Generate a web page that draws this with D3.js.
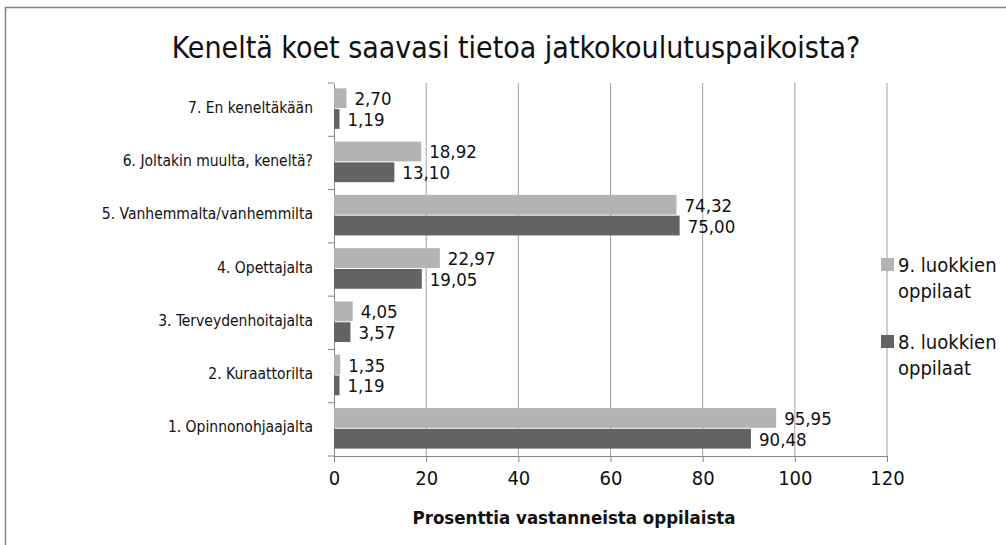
<!DOCTYPE html>
<html>
<head>
<meta charset="utf-8">
<script src="https://cdn.jsdelivr.net/npm/d3@7"></script>
<style>
  body { margin: 0; background: #fff; }
  text { font-family: "DejaVu Sans Condensed", "Open Sans", sans-serif; }
</style>
</head>
<body>
<div id="chart"></div>
<script>
// Data
let categories = [
  '7. En keneltäkään',
  '6. Joltakin muulta, keneltä?',
  '5. Vanhemmalta/vanhemmilta',
  '4. Opettajalta',
  '3. Terveydenhoitajalta',
  '2. Kuraattorilta',
  '1. Opinnonohjaajalta'
]
let ninth = [2.70, 18.92, 74.32, 22.97, 4.05, 1.35, 95.95]
let eighth = [1.19, 13.10, 75.00, 19.05, 3.57, 1.19, 90.48]
let seriesNames = ['9. luokkien oppilaat', '8. luokkien oppilaat']
let xTicks = [0, 20, 40, 60, 80, 100, 120]

let W = 1006
let H = 545
let margin = { top: 83, left: 334, right: 119, bottom: 89 }
let width = W - margin.left - margin.right
let height = H - margin.top - margin.bottom

let narrow = '"Liberation Sans Narrow", "DejaVu Sans Condensed", sans-serif'

let svg = d3.select('#chart')
  .append('svg')
  .attr('width', W)
  .attr('height', H)

// outer frame
svg.append('rect')
  .attr('x', 5.5).attr('y', 7.5)
  .attr('width', W + 10).attr('height', H + 10)
  .attr('fill', 'none')
  .attr('stroke', '#868686')
  .attr('stroke-width', 1.5)

svg.append('text')
  .attr('x', 516).attr('y', 58)
  .attr('text-anchor', 'middle')
  .attr('font-size', 30)
  .attr('font-family', narrow)
  .attr('fill', '#111')
  .text('Keneltä koet saavasi tietoa jatkokoulutuspaikoista?')

let g = svg.append('g').attr('transform', `translate(${margin.left},${margin.top})`)

let x = d3.scaleLinear().domain([0, 120]).range([0, width])
let y = d3.scaleBand().domain(categories).range([0, height])
let sub = d3.scaleBand().domain([0, 1]).range([y.bandwidth() * 0.1, y.bandwidth() * 0.88])

// gridlines
g.append('g')
  .selectAll('line')
  .data(xTicks.filter(d => d > 0))
  .enter()
  .append('line')
  .attr('x1', d => x(d)).attr('x2', d => x(d))
  .attr('y1', 0).attr('y2', height)
  .attr('stroke', '#a0a0a0')

// x axis
let xAxis = d3.axisBottom(x).tickValues(xTicks).tickSize(6).tickPadding(9)
g.append('g')
  .attr('class', 'x-axis')
  .attr('transform', `translate(0,${height})`)
  .call(xAxis)
g.selectAll('.x-axis .domain').attr('stroke', '#868686')
g.selectAll('.x-axis line').attr('stroke', '#868686')
g.selectAll('.x-axis text').attr('font-size', 20).attr('fill', '#111')
  .attr('font-family', null)

// y axis
let yAxis = d3.axisLeft(y).tickSize(0).tickPadding(21)
let yG = g.append('g').attr('class', 'y-axis').call(yAxis)
yG.select('.domain').attr('stroke', '#868686')
yG.selectAll('text').attr('font-size', 15.5).attr('fill', '#111')
  .attr('font-family', narrow)
  .attr('dy', '0.2em')
// category boundary ticks
g.append('g')
  .selectAll('line')
  .data(d3.range(categories.length + 1))
  .enter()
  .append('line')
  .attr('x1', -6).attr('x2', 0)
  .attr('y1', d => d * y.step()).attr('y2', d => d * y.step())
  .attr('stroke', '#868686')

let fmt = d => d3.format('.2f')(d).replace('.', ',')
let colors = ['#b3b3b3', '#636363']
let series = [ninth, eighth]

series.forEach((vals, si) => {
  g.append('g')
    .selectAll('rect')
    .data(vals)
    .enter()
    .append('rect')
    .attr('x', 0)
    .attr('y', (d, i) => y(categories[i]) + sub(si))
    .attr('width', d => x(d))
    .attr('height', sub.bandwidth() - 1)
    .attr('fill', colors[si])

  g.append('g')
    .selectAll('text')
    .data(vals)
    .enter()
    .append('text')
    .attr('x', d => x(d) + 8)
    .attr('y', (d, i) => y(categories[i]) + sub(si) + sub.bandwidth() / 2)
    .attr('dy', '0.35em')
    .attr('font-size', 18.5)
    .attr('fill', '#111')
    .text(fmt)
})

// x axis title
svg.append('text')
  .attr('x', 574).attr('y', 524)
  .attr('text-anchor', 'middle')
  .attr('font-size', 18.5)
  .attr('font-weight', 'bold')
  .attr('fill', '#111')
  .text('Prosenttia vastanneista oppilaista')

// legend
let legend = svg.append('g').attr('transform', 'translate(881,258)')
seriesNames.forEach((name, i) => {
  let lg = legend.append('g').attr('transform', `translate(0,${i * 77})`)
  lg.append('rect')
    .attr('x', 0).attr('y', 0)
    .attr('width', 13).attr('height', 13)
    .attr('fill', colors[i])
  let words = name.split(' ')
  lg.append('text')
    .attr('x', 17).attr('y', 14)
    .attr('font-size', 20)
    .attr('fill', '#111')
    .text(words[0] + ' ' + words[1])
  lg.append('text')
    .attr('x', 17).attr('y', 40)
    .attr('font-size', 20)
    .attr('fill', '#111')
    .text(words[2])
})
</script>
</body>
</html>
